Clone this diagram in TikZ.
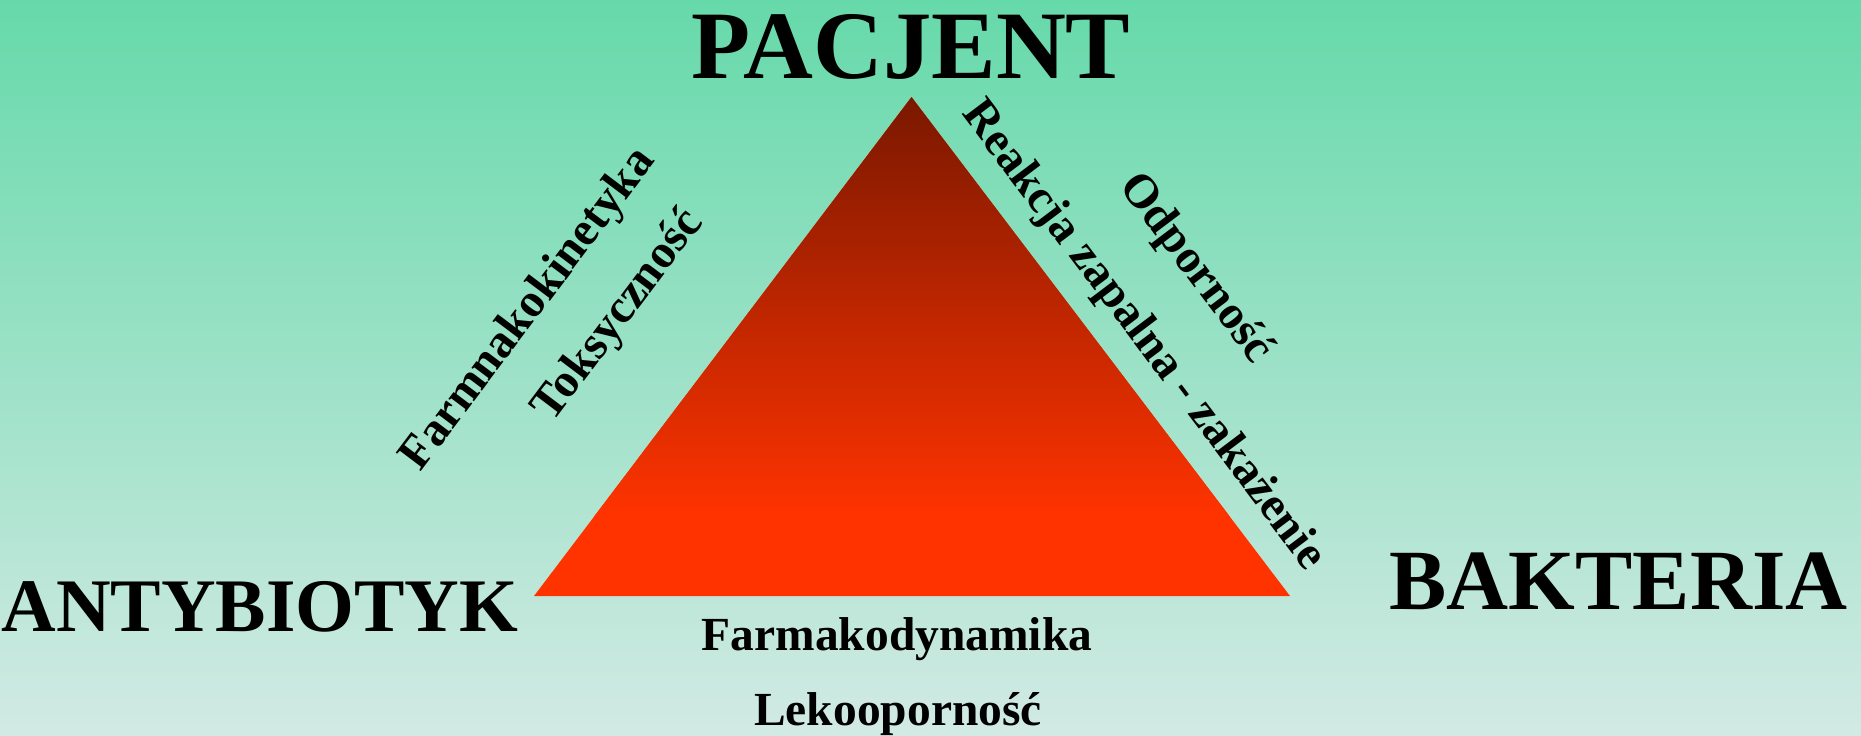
\documentclass[tikz,border=0pt]{standalone}
\usepackage{fontspec}
\setmainfont{Liberation Serif}
\usetikzlibrary{positioning}

\definecolor{bgtop}{HTML}{66D9AA}
\definecolor{bgbottom}{HTML}{D2EAE4}
\definecolor{tritop}{HTML}{7A1800}
\definecolor{tribottom}{HTML}{FF3300}

\tikzset{
  corner/.style={anchor=base, inner sep=0pt, text=black},
  side/.style={inner sep=0pt, text=black, font=\bfseries\fontsize{13.5}{16}\selectfont},
}

\begin{document}
\begin{tikzpicture}[x=0.01cm, y=-0.01cm]
    % background
    \useasboundingbox (0,0) rectangle (1861,735);
    \shade[top color=bgtop, bottom color=bgbottom] (0,0) rectangle (1861,735);

    % triangle
    \coordinate (apex) at (911.5,97);
    \coordinate (left) at (534,596);
    \coordinate (right) at (1290,596);
    \fill[tribottom] (apex) -- (left) -- (right) -- cycle;
    \begin{scope}
        \clip (apex) -- (left) -- (right) -- cycle;
        \shade[top color=tritop, bottom color=tribottom] (534,97) rectangle (1290,516);
    \end{scope}

    % corners
    \node[corner, font=\bfseries\fontsize{27.5}{32}\selectfont]
          (pacjent) at (911,78) {PACJENT};
    \node[corner, font=\bfseries\fontsize{21.5}{25}\selectfont]
          (antybiotyk) at (260,631) {ANTYBIOTYK};
    \node[corner, font=\bfseries\fontsize{24.4}{28}\selectfont]
          (bakteria) at (1618.5,609) {BAKTERIA};

    % sides
    \node[side, rotate=53] (kinetyka) at (529,310) {Farmnakokinetyka};
    \node[side, rotate=53] (toks) at (619,316) {Toksyczność};
    \node[side, rotate=-53] (reakcja) at (1143,336) {Reakcja zapalna - zakażenie};
    \node[side, rotate=-53] (odpor) at (1195,269) {Odporność};
    \node[side, anchor=base] (dynamika) at (897,650) {Farmakodynamika};
    \node[side, anchor=base] (lekoopor) at (898,725) {Lekooporność};
\end{tikzpicture}
\end{document}
